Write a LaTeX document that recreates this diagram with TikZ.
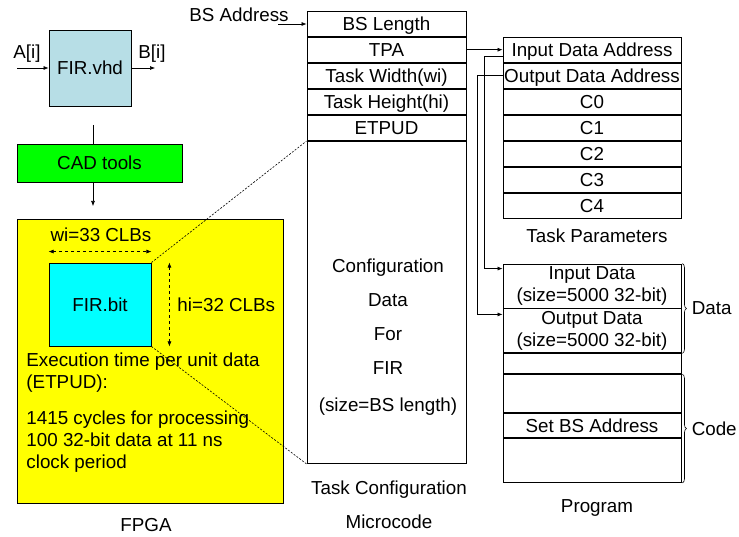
\documentclass[tikz,border=0pt]{standalone}
\usepackage{fontspec}
\setmainfont{Liberation Sans}
\usetikzlibrary{arrows.meta}
\usetikzlibrary{positioning}
\usetikzlibrary{decorations.pathreplacing}

\definecolor{vhdblue}{RGB}{183,222,230}
\definecolor{cadgreen}{RGB}{0,255,0}
\definecolor{fpgayellow}{RGB}{255,255,0}
\definecolor{bitcyan}{RGB}{0,255,255}

\begin{document}
\begin{tikzpicture}[
    x=1pt, y=-1pt,
    line width=0.9pt,
    every node/.style={font=\fontsize{18.8}{22}\selectfont, inner sep=0pt},
    cell/.style={draw, minimum width=159pt, minimum height=25.2pt, text height=13.5pt, text depth=0pt},
    parcell/.style={draw, minimum width=178pt, minimum height=25.15pt, text height=13.5pt, text depth=0pt},
    progcell/.style={draw, minimum width=178pt, align=center},
    arr/.style={-{Latex[length=5pt,width=4pt]}, line width=0.6pt},
    dims/.style={{Latex[length=5pt,width=4pt]}-{Latex[length=5pt,width=4pt]}, dashed, line width=0.6pt},
    zoomline/.style={dash pattern=on 2pt off 1.5pt, line width=0.6pt},
    node distance=0pt,
 ]
    \useasboundingbox (0,0) rectangle (739,537);

    % design flow
    \node[draw, fill=vhdblue, minimum width=82pt, minimum height=76pt] (vhd) at (90,68) {FIR.vhd};
    \node (ai) at (27,54) {A[i]};
    \node (bi) at (152,54) {B[i]};
    \coordinate (ain) at (17,68);
    \coordinate (bout) at (155,68);
    \draw[arr] (ain) -- (vhd);
    \draw[arr] (vhd) -- (bout);

    \node[draw, fill=cadgreen, minimum width=165pt, minimum height=38pt] (cad) at (99.5,163) {CAD tools};
    \coordinate (vhdout) at (93,125);
    \coordinate (fpgain) at (93,206);
    \draw (vhdout) -- (cad.north -| vhdout);
    \draw[arr] (cad.south -| fpgain) -- (fpgain);

    % FPGA
    \node[draw, fill=fpgayellow, minimum width=266pt, minimum height=284pt] (fpga) at (150,361) {};
    \node (fpgalbl) at (146,525) {FPGA};
    \node[draw, fill=bitcyan, minimum width=102pt, minimum height=83pt] (bit) at (100,304.5) {FIR.bit};
    \node (wi) at (101,235) {wi=33 CLBs};
    \draw[dims] ([yshift=11pt]bit.north west) -- ([yshift=11pt]bit.north east);
    \draw[dims] ([xshift=18pt]bit.north east) -- ([xshift=18pt]bit.south east);
    \node[anchor=west] (hi) at (177,305) {hi=32 CLBs};
    \node[anchor=west, align=left] (exec) at (26,373) {Execution time per unit data\\(ETPUD):};
    \node[anchor=west, align=left] (cycles) at (26,442) {1415 cycles for processing\\100 32-bit data at 11 ns\\clock period};

    % microcode
    \node[cell] (bslen) at (386.5,23.6) {BS Length};
    \node[cell, below=of bslen] (tpa) {TPA};
    \node[cell, below=of tpa] (tw) {Task Width(wi)};
    \node[cell, below=of tw] (th) {Task Height(hi)};
    \node[cell, below=of th] (etpud) {ETPUD};
    \node[draw, minimum width=159pt, minimum height=322pt, below=of etpud] (cfg) {};
    \node[align=center, font=\fontsize{18.8}{34}\selectfont] (cfgtxt) at (388,337) {Configuration\\Data\\For\\FIR\\[3pt](size=BS length)};
    \node (tclbl) at (389,490) {Task Configuration};
    \node (mclbl) at (389,522) {Microcode};
    \node (bsaddr) at (239,15) {BS Address};
    \coordinate (bsin) at (278,24);
    \draw[arr] (bsin) -- (bslen.west |- bsin);

    % task parameters
    \node[parcell] (ida) at (592,49.6) {Input Data Address};
    \node[parcell, below=of ida] (oda) {Output Data Address};
    \node[parcell, below=of oda] (c0) {C0};
    \node[parcell, below=of c0] (c1) {C1};
    \node[parcell, below=of c1] (c2) {C2};
    \node[parcell, below=of c2] (c3) {C3};
    \node[parcell, below=of c3] (c4) {C4};
    \node (tplbl) at (597,236) {Task Parameters};
    \draw[arr] (tpa.east) -- (tpa.east -| ida.west);

    % program
    \node[progcell, minimum height=44pt] (pin) at (592,286) {Input Data\\(size=5000 32-bit)};
    \node[progcell, minimum height=44pt, below=of pin] (pout) {Output Data\\(size=5000 32-bit)};
    \node[progcell, minimum height=20pt, below=of pout] (pgap) {};
    \node[progcell, minimum height=38pt, below=of pgap] (pcode1) {};
    \node[progcell, minimum height=24pt, below=of pcode1, text height=13.5pt, text depth=0pt] (pset) {Set BS Address};
    \node[progcell, minimum height=44pt, below=of pset] (pcode2) {};
    \node (prlbl) at (597,508) {Program};

    \draw[arr] ([yshift=6pt]ida.south west) -- ++(-18,0) |- ([yshift=-5pt]pin.north west);
    \draw[arr] (oda.west) -- ++(-25,0) |- ([yshift=-6pt]pout.north west);

    \draw[decorate, decoration={brace, amplitude=4pt, raise=1pt}, line width=0.6pt]
        (pin.north east) -- (pout.south east) node[midway, right=10pt] (datalbl) {Data};
    \draw[decorate, decoration={brace, amplitude=4pt, raise=1pt}, line width=0.6pt]
        (pcode1.north east) -- (pcode2.south east) node[midway, right=10pt] (codelbl) {Code};

    % zoom lines
    \draw[zoomline] (bit.north east) -- (etpud.south west);
    \draw[zoomline] (bit.south east) -- (cfg.south west);
\end{tikzpicture}
\end{document}
